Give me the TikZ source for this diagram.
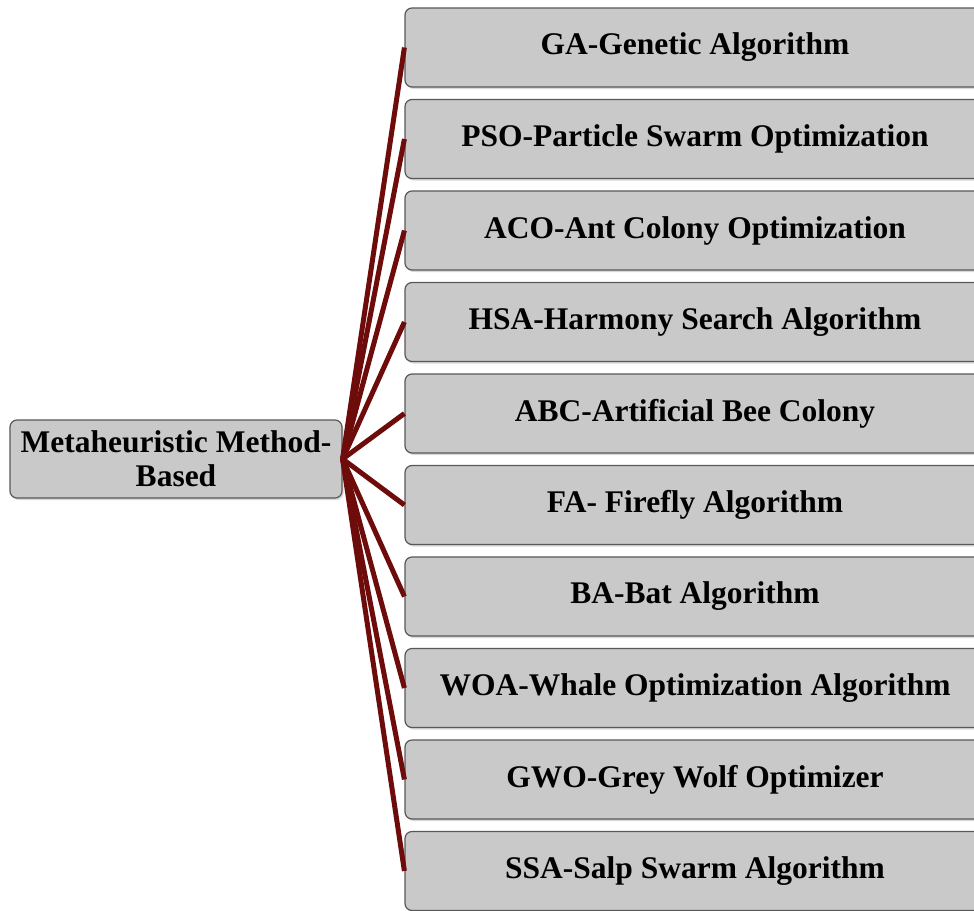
\documentclass[tikz,border=0pt]{standalone}
\usepackage{fontspec}
\setmainfont{Liberation Serif}
\usetikzlibrary{shadows}
\definecolor{boxgray}{RGB}{201,201,201}
\definecolor{boxline}{RGB}{88,88,88}
\definecolor{linkred}{RGB}{110,12,12}

\begin{document}
\begin{tikzpicture}[x=1pt,y=-1pt,
  box/.style={draw=boxline, line width=1.2pt, fill=boxgray, rounded corners=7pt,
    drop shadow={shadow xshift=1.5pt, shadow yshift=-2pt, opacity=0.3},
    font=\fontsize{31.5}{34}\selectfont\bfseries, align=center, inner sep=0pt},
  link/.style={draw=linkred, line width=5pt}]
\clip (0,0) rectangle (974,910);
%%%ROOT
\node[box, minimum width=332pt, minimum height=78pt] (meta) at (176,459)
  {Metaheuristic Method-\\Based};
%%%ALGORITHMS
\foreach \lab [count=\i] in {GA-Genetic Algorithm, PSO-Particle Swarm Optimization,
  ACO-Ant Colony Optimization, HSA-Harmony Search Algorithm, ABC-Artificial Bee Colony,
  FA- Firefly Algorithm, BA-Bat Algorithm, WOA-Whale Optimization Algorithm,
  GWO-Grey Wolf Optimizer, SSA-Salp Swarm Algorithm}
{
  \node[box, minimum width=580pt, minimum height=79pt] (alg\i) at (695,{47.5+91.5*(\i-1)}) {\lab};
  \draw[link] (meta.east) -- (alg\i.west);
}
\end{tikzpicture}
\end{document}
